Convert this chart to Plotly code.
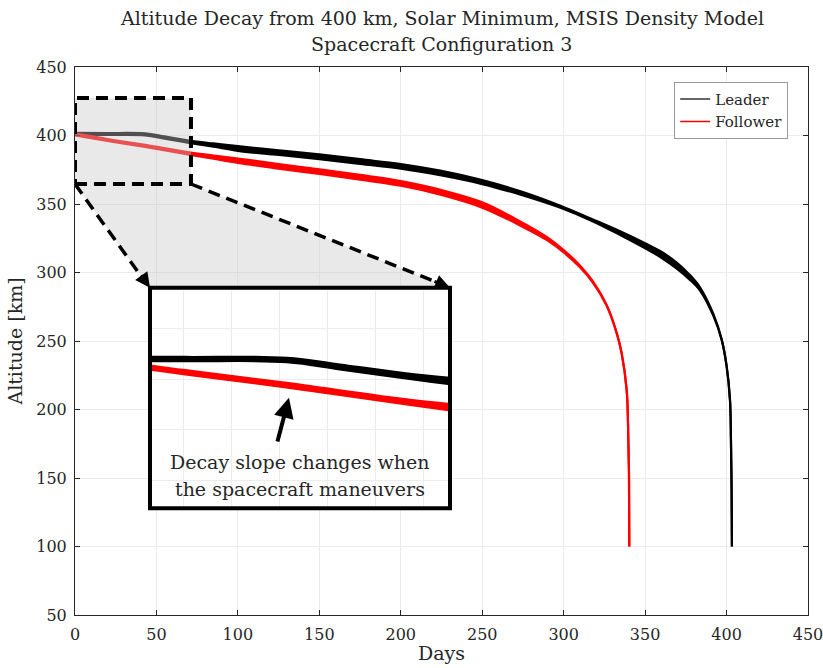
import plotly.graph_objects as go

# ---- Altitude histories (days since start, altitude in km, band spread in km) ----
leader_days = [0, 20, 43, 55, 70, 85, 100, 125, 150, 175, 200, 225, 250, 275, 298, 318,
               335, 350, 360, 369.4, 377, 383.7, 391.9, 397, 400, 402.1, 402.7, 403.1, 403.3]
leader_alt = [401.2, 401.1, 400.8, 398.5, 395.5, 393.0, 390.5, 387.5, 384.5, 381.0, 377.5,
              372.5, 366.0, 357.5, 348.0, 338.0, 328.5, 319.5, 313.0, 305.0, 297.0, 288.0,
              269.0, 251.0, 232.0, 207.0, 178.0, 140.0, 100.0]
leader_spread = [1.4, 1.4, 1.4, 1.6, 1.7, 2.4, 3.4, 3.4, 3.4, 3.4, 3.4, 3.4, 2.9, 2.4, 1.4,
                 1.4, 2.8, 3.8, 4.4, 4.4, 3.6, 2.4, 1.4, 0.4, 0.0, 0.0, 0.0, 0.0, 0.0]

follower_days = [0, 20, 42, 71, 85, 100, 125, 150, 175, 200, 225, 250, 275, 290, 300, 310,
                 318, 326.4, 332.5, 335.6, 338.7, 339.5, 340.1, 340.3]
follower_alt = [400.8, 396.7, 392.6, 386.7, 384.2, 381.6, 377.5, 373.6, 369.5, 365.0, 358.4,
                349.3, 334.7, 324.5, 315.5, 304.5, 293.0, 276.0, 256.0, 241.0, 214.0, 190.0,
                153.4, 100.0]
follower_spread = [1.4, 1.4, 1.5, 1.7, 2.4, 3.2, 3.4, 3.4, 3.4, 3.4, 3.6, 3.9, 2.9, 2.2, 1.8,
                   1.4, 1.0, 0.5, 0.2, 0.0, 0.0, 0.0, 0.0, 0.0]

x_ticks = [0, 50, 100, 150, 200, 250, 300, 350, 400, 450]
y_ticks = [50, 100, 150, 200, 250, 300, 350, 400, 450]

# zoom window (days, km) and inset view limits
zoom_days = [0, 71.2]
zoom_alt = [364.6, 427.4]
inset_days = [12, 80]
inset_alt = [351.5, 424.8]

FONT = "DejaVu Serif"
INK = "#262626"

series = [
    ("Leader", leader_days, leader_alt, leader_spread, "#000000"),
    ("Follower", follower_days, follower_alt, follower_spread, "#ff0000"),
]

fig = go.Figure()


def add_band(days, alt, spread, color, xa, ya):
    lo = [a - s / 2 for a, s in zip(alt, spread)]
    hi = [a + s / 2 for a, s in zip(alt, spread)]
    line = dict(color=color, width=2.2, shape="spline", smoothing=1.0)
    fig.add_trace(go.Scatter(x=days, y=lo, mode="lines", line=line,
                             showlegend=False, hoverinfo="skip", xaxis=xa, yaxis=ya))
    fig.add_trace(go.Scatter(x=days, y=hi, mode="lines", line=line,
                             fill="tonexty", fillcolor=color, showlegend=False,
                             hoverinfo="skip", xaxis=xa, yaxis=ya))


for name, d, a, s, c in series:
    add_band(d, a, s, c, "x", "y")
for name, d, a, s, c in series:
    add_band(d, a, s, c, "x2", "y2")

# legend entries
fig.add_trace(go.Scatter(x=[None], y=[None], mode="lines", name="Leader",
                         line=dict(color="#333333", width=1.5)))
fig.add_trace(go.Scatter(x=[None], y=[None], mode="lines", name="Follower",
                         line=dict(color="#ff0000", width=1.5)))

# inset placement (fractions of the main plotting area)
ins_x = [0.1023, 0.5116]
ins_y = [0.195, 0.597]

axis_common = dict(showgrid=True, gridcolor="#ebebeb", gridwidth=1, zeroline=False,
                   showline=True, linecolor=INK, linewidth=1, mirror="ticks",
                   ticks="inside", ticklen=5, tickcolor=INK, tickwidth=1,
                   ticklabeloverflow="allow", automargin=False,
                   tickfont=dict(family=FONT, size=16, color=INK))

fig.update_layout(
    width=823, height=668,
    margin=dict(l=75, r=15, t=67, b=53),
    paper_bgcolor="white", plot_bgcolor="white",
    font=dict(family=FONT, size=16, color=INK),
    xaxis=dict(range=[0, 450], tickvals=x_ticks, domain=[0, 1], ticklabelstandoff=5,
               title=dict(text="Days", font=dict(family=FONT, size=19, color=INK), standoff=3),
               **axis_common),
    yaxis=dict(range=[50, 450], tickvals=y_ticks, domain=[0, 1], ticklabelstandoff=4,
               title=dict(text="Altitude [km]", font=dict(family=FONT, size=19, color=INK), standoff=8),
               **axis_common),
    xaxis2=dict(domain=ins_x, anchor="y2", range=inset_days, showticklabels=False,
                ticks="", showgrid=True, gridcolor="#ececec", zeroline=False,
                tick0=19.5, dtick=10.9, showline=False),
    yaxis2=dict(domain=ins_y, anchor="x2", range=inset_alt, showticklabels=False,
                ticks="", showgrid=True, gridcolor="#ececec", zeroline=False,
                tick0=360.8, dtick=16.8, showline=False),
    legend=dict(x=0.973, y=0.973, xanchor="right", yanchor="top",
                bgcolor="white", bordercolor="#9a9a9a", borderwidth=1,
                font=dict(family=FONT, size=15, color=INK), traceorder="normal",
                itemwidth=30, tracegroupgap=0),
    showlegend=True,
)

# inset corners expressed in main-axis data units
tl_x = 450 * ins_x[0]
tr_x = 450 * ins_x[1]
top_y = 50 + 400 * ins_y[1]

shade = (f"M {zoom_days[0]},{zoom_alt[1]} L {zoom_days[1]},{zoom_alt[1]} "
         f"L {zoom_days[1]},{zoom_alt[0]} L {tr_x},{top_y} L {tl_x},{top_y} "
         f"L {zoom_days[0]},{zoom_alt[0]} Z")
fig.add_shape(type="path", path=shade, xref="x", yref="y", layer="above",
              fillcolor="rgba(200,200,200,0.4)", line=dict(width=0))

dash = "12px,7px"
fig.add_shape(type="rect", xref="x", yref="y", layer="above",
              x0=zoom_days[0], x1=zoom_days[1], y0=zoom_alt[0], y1=zoom_alt[1],
              line=dict(color="black", width=4, dash=dash), fillcolor="rgba(0,0,0,0)")
fig.add_shape(type="line", xref="x", yref="y", layer="above",
              x0=zoom_days[0], y0=zoom_alt[0], x1=tl_x - 4, y1=top_y + 6,
              line=dict(color="black", width=3.5, dash=dash))
fig.add_shape(type="line", xref="x", yref="y", layer="above",
              x0=zoom_days[1], y0=zoom_alt[0], x1=tr_x - 8, y1=top_y + 4,
              line=dict(color="black", width=3.5, dash=dash))

# inset frame
fig.add_shape(type="rect", xref="x2 domain", yref="y2 domain", layer="above",
              x0=0, x1=1, y0=0, y1=1, line=dict(color="black", width=4),
              fillcolor="rgba(0,0,0,0)")

annotations = [
    dict(x=tl_x, y=top_y, xref="x", yref="y", ax=-10, ay=-14, showarrow=True,
         arrowhead=2, arrowsize=1, arrowwidth=3, arrowcolor="black", text=""),
    dict(x=tr_x, y=top_y, xref="x", yref="y", ax=-17, ay=-7, showarrow=True,
         arrowhead=2, arrowsize=1, arrowwidth=3, arrowcolor="black", text=""),
    dict(x=43.5, y=388.2, xref="x2", yref="y2", axref="x2", ayref="y2",
         ax=40.8, ay=373.2, showarrow=True, arrowhead=2, arrowsize=1,
         arrowwidth=4, arrowcolor="black", text=""),
    dict(x=0.5, y=0.209, xref="x2 domain", yref="y2 domain", showarrow=False,
         text="Decay slope changes when", font=dict(family=FONT, size=19, color=INK),
         xanchor="center", yanchor="middle"),
    dict(x=0.5, y=0.086, xref="x2 domain", yref="y2 domain", showarrow=False,
         text="the spacecraft maneuvers", font=dict(family=FONT, size=19, color=INK),
         xanchor="center", yanchor="middle"),
    dict(x=0.5, y=1.0894, xref="paper", yref="paper", showarrow=False,
         text="Altitude Decay from 400 km, Solar Minimum, MSIS Density Model",
         font=dict(family=FONT, size=19, color=INK), xanchor="center", yanchor="middle"),
    dict(x=0.5, y=1.042, xref="paper", yref="paper", showarrow=False,
         text="Spacecraft Configuration 3",
         font=dict(family=FONT, size=19, color=INK), xanchor="center", yanchor="middle"),
]
fig.update_layout(annotations=annotations)

fig.write_html("out.html")
